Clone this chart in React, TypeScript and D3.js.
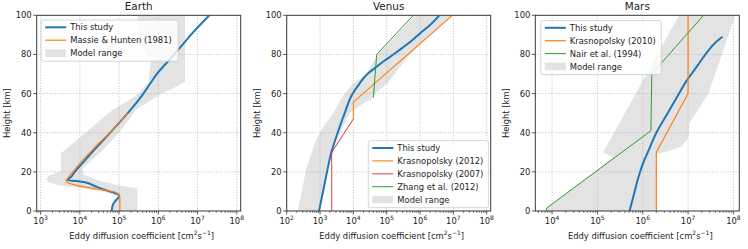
import React from 'react';
import * as d3 from 'd3';

// every profile point is [log10 K (cm2 s-1), height (km)]
type Pt = [number, number];

const heightTicks = [0, 20, 40, 60, 80, 100];
const panelTitles = ['Earth', 'Venus', 'Mars'];

const earthStudy: Pt[] = [[4.81, 0], [4.84, 3], [4.9, 5], [4.97, 6.5], [5.0, 7.5], [4.98, 8.5], [4.85, 9.5], [4.6, 11], [4.35, 13], [4.1, 14.8], [3.9, 15.3], [3.68, 15.8], [3.78, 17.5], [3.87, 20], [4.09, 25], [4.31, 30], [4.54, 35], [4.77, 40], [5.0, 45], [5.22, 50], [5.43, 55], [5.62, 60], [5.79, 65], [5.96, 70], [6.18, 75], [6.4, 80], [6.62, 85], [6.83, 90], [7.3, 100]];
const earthMassie: Pt[] = [[5.02, 0], [5.02, 6.5], [5.0, 8], [4.9, 9.6], [4.7, 10.4], [4.41, 11.3], [3.98, 12.8], [3.75, 14], [3.65, 15.3], [3.7, 17], [3.82, 20], [4.03, 25], [4.24, 29.5], [4.45, 34], [4.67, 38], [4.95, 44], [5.22, 50]];
const earthBandLeft: Pt[] = [[4.8, 0], [4.9, 5], [4.95, 7.5], [4.6, 10], [4.0, 11.8], [3.5, 13], [3.2, 14.5], [3.15, 16], [3.2, 18], [3.52, 20.5], [3.52, 29.5], [4.14, 40], [4.84, 51.7], [5.2, 56], [5.5, 60], [5.75, 66], [5.81, 76], [5.6, 84], [5.47, 90], [5.47, 100]];
const earthBandRight: Pt[] = [[5.47, 0], [5.47, 11.6], [5.0, 13], [4.5, 15.5], [4.1, 18.5], [4.07, 21.8], [4.58, 31], [5.0, 40], [5.43, 51.7], [5.75, 56], [6.1, 60], [6.4, 63], [6.68, 66], [6.68, 100]];

const venusStudy: Pt[] = [[2.97, 0], [3.09, 10], [3.21, 20], [3.34, 30], [3.53, 40], [3.74, 50], [3.98, 60], [4.18, 65], [4.42, 70], [4.68, 73.5], [4.95, 77], [5.2, 80], [5.48, 83.5], [5.75, 87], [5.98, 90.5], [6.3, 95], [6.58, 100]];
const venusK2012: Pt[] = [[4.0, 47], [4.0, 55.6], [6.97, 100]];
const venusK2007: Pt[] = [[3.35, 0], [3.35, 30], [4.0, 47]];
const venusZhang: Pt[] = [[4.6, 58], [4.7, 80], [5.8, 100]];
const venusBandLeft: Pt[] = [[2.33, 0], [2.45, 10], [2.58, 21], [2.85, 35], [3.1, 43], [3.4, 50], [3.65, 58], [3.98, 65], [4.38, 70], [4.73, 80], [5.3, 90], [5.85, 100]];
const venusBandRight: Pt[] = [[2.95, 0], [3.34, 30], [3.6, 40], [3.88, 50], [4.3, 55], [4.55, 57], [4.65, 60], [5.0, 65], [5.7, 80], [6.3, 90], [6.95, 100]];

const marsStudy: Pt[] = [[5.71, 0], [5.8, 8], [5.91, 17.6], [6.0, 24], [6.13, 31], [6.3, 40], [6.55, 50], [6.75, 58], [6.98, 67], [7.2, 74], [7.4, 80.5], [7.6, 86], [7.76, 89]];
const marsK2010: Pt[] = [[6.3, 0], [6.3, 30], [7.0, 60], [7.0, 100]];
const marsNair: Pt[] = [[3.87, 0], [3.88, 1.5], [6.18, 41], [6.2, 70], [7.34, 100]];
const marsBandLeft: Pt[] = [[3.87, 0], [3.88, 1.5], [5.35, 27.5], [5.13, 30], [6.8, 100]];
const marsBandRight: Pt[] = [[6.3, 0], [6.3, 29], [6.55, 30.5], [6.85, 33], [7.0, 37], [7.03, 45], [7.45, 60], [8.04, 100]];

const BLUE = '#1f77b4';
const ORANGE = '#ff7f0e';
const RED = '#d62728';
const GREEN = '#2ca02c';
const BAND = '#e3e3e3';
const FONT = 'DejaVu Sans, sans-serif';

const TOP = 15.3;
const BOTTOM = 211;
const W = 204;

interface Series { name: string; data: Pt[]; color: string; width: number; smooth?: boolean; opacity?: number }
interface PanelCfg {
  title: string; left: number; lo: number; hi: number; exps: number[];
  series: Series[]; bandLeft: Pt[]; bandRight: Pt[];
  legend: { x: number; y: number; w: number };
}

const panels: PanelCfg[] = [
  {
    title: panelTitles[0], left: 36.7, lo: 2.9, hi: 8.1, exps: [3, 4, 5, 6, 7, 8],
    series: [
      { name: 'This study', data: earthStudy, color: BLUE, width: 2, smooth: true },
      { name: 'Massie & Hunten (1981)', data: earthMassie, color: ORANGE, width: 1.2, smooth: true },
    ],
    bandLeft: earthBandLeft, bandRight: earthBandRight,
    legend: { x: 41.2, y: 20, w: 137 },
  },
  {
    title: panelTitles[1], left: 286.7, lo: 2, hi: 8.12, exps: [2, 3, 4, 5, 6, 7, 8],
    series: [
      { name: 'This study', data: venusStudy, color: BLUE, width: 2, smooth: true },
      { name: 'Krasnopolsky (2012)', data: venusK2012, color: ORANGE, width: 1.1 },
      { name: 'Krasnopolsky (2007)', data: venusK2007, color: RED, width: 1.1, opacity: 0.8 },
      { name: 'Zhang et al. (2012)', data: venusZhang, color: GREEN, width: 1 },
    ],
    bandLeft: venusBandLeft, bandRight: venusBandRight,
    legend: { x: 368.3, y: 140.7, w: 120.3 },
  },
  {
    title: panelTitles[2], left: 535.3, lo: 3.63, hi: 8.13, exps: [4, 5, 6, 7, 8],
    series: [
      { name: 'This study', data: marsStudy, color: BLUE, width: 2, smooth: true },
      { name: 'Krasnopolsky (2010)', data: marsK2010, color: ORANGE, width: 1.2 },
      { name: 'Nair et al. (1994)', data: marsNair, color: GREEN, width: 1 },
    ],
    bandLeft: marsBandLeft, bandRight: marsBandRight,
    legend: { x: 540.8, y: 20.5, w: 120.5 },
  },
];

function Panel({ p }: { p: PanelCfg }) {
  const x = d3.scaleLog().domain([10 ** p.lo, 10 ** p.hi]).range([p.left, p.left + W]);
  const y = d3.scaleLinear().domain([0, 100]).range([BOTTOM, TOP]);
  const px = (d: Pt) => x(10 ** d[0]);
  const py = (d: Pt) => y(d[1]);
  const lineLin = d3.line<Pt>().x(px).y(py);
  const lineSmooth = d3.line<Pt>().x(px).y(py).curve(d3.curveMonotoneY);

  const bandPoly = [...p.bandLeft, ...p.bandRight.slice().reverse()];
  const bandPath = d3.line<Pt>().x(px).y(py)(bandPoly) + 'Z';

  // minor ticks 2..9 x 10^k inside the domain
  const minors: number[] = [];
  for (let e = Math.floor(p.lo); e <= Math.ceil(p.hi); e++) {
    for (let m = 2; m <= 9; m++) {
      const v = Math.log10(m) + e;
      if (v >= p.lo && v <= p.hi) minors.push(10 ** v);
    }
  }
  const cx = p.left + W / 2;
  const clipId = `clip-${p.title}`;
  const entries: { name: string; color: string; width: number; patch?: boolean; opacity?: number }[] = [
    ...p.series.map(s => ({ name: s.name, color: s.color, width: s.width, opacity: s.opacity })),
    { name: 'Model range', color: BAND, width: 0, patch: true },
  ];

  return (
    <g>
      <defs>
        <clipPath id={clipId}>
          <rect x={p.left} y={TOP} width={W} height={BOTTOM - TOP} />
        </clipPath>
      </defs>
      <g clipPath={`url(#${clipId})`}>
        <path d={bandPath} fill={BAND} stroke="none" />
        {p.exps.map(e => (
          <line key={'gx' + e} x1={x(10 ** e)} x2={x(10 ** e)} y1={TOP} y2={BOTTOM}
            stroke="#b0b0b0" strokeWidth={0.8} strokeDasharray="1,1.6" />
        ))}
        {heightTicks.map(t => (
          <line key={'gy' + t} x1={p.left} x2={p.left + W} y1={y(t)} y2={y(t)}
            stroke="#b0b0b0" strokeWidth={0.8} strokeDasharray="1,1.6" />
        ))}
        {p.series.map(s => (
          <path key={s.name} d={(s.smooth ? lineSmooth : lineLin)(s.data) || ''} fill="none"
            stroke={s.color} strokeWidth={s.width} strokeOpacity={s.opacity ?? 1} strokeLinejoin="round" />
        ))}
      </g>
      <rect x={p.left} y={TOP} width={W} height={BOTTOM - TOP} fill="none" stroke="#3a3a3a" strokeWidth={1} />

      {/* x ticks */}
      {p.exps.map(e => (
        <g key={'tx' + e}>
          <line x1={x(10 ** e)} x2={x(10 ** e)} y1={BOTTOM} y2={BOTTOM + 3.5} stroke="#333" strokeWidth={0.8} />
          <text x={x(10 ** e)} y={224.2} textAnchor="middle" fontSize={8.4} fontFamily={FONT} fill="#222">
            10<tspan dy={-4.4} fontSize={6}>{e}</tspan>
          </text>
        </g>
      ))}
      {minors.map((v, i) => (
        <line key={'mx' + i} x1={x(v)} x2={x(v)} y1={BOTTOM} y2={BOTTOM + 2} stroke="#333" strokeWidth={0.6} />
      ))}
      {/* y ticks */}
      {heightTicks.map(t => (
        <g key={'ty' + t}>
          <line x1={p.left - 3.5} x2={p.left} y1={y(t)} y2={y(t)} stroke="#333" strokeWidth={0.8} />
          <text x={p.left - 5} y={y(t) + 3} textAnchor="end" fontSize={8.4} fontFamily={FONT} fill="#222">{t}</text>
        </g>
      ))}

      <text x={cx} y={10.4} textAnchor="middle" fontSize={10.4} fontFamily={FONT} fill="#222">{p.title}</text>
      <text x={cx + 3} y={238.5} textAnchor="middle" fontSize={8.4} fontFamily={FONT} fill="#222">
        Eddy diffusion coefficient [cm<tspan dy={-3.5} fontSize={6}>2</tspan><tspan dy={3.5}>s</tspan><tspan dy={-3.5} fontSize={6}>−1</tspan><tspan dy={3.5}>]</tspan>
      </text>
      <text transform={`translate(${p.left - 29.4},${(TOP + BOTTOM) / 2}) rotate(-90)`} textAnchor="middle"
        dominantBaseline="central" fontSize={8.4} fontFamily={FONT} fill="#222">Height [km]</text>

      {/* legend */}
      <g>
        <rect x={p.legend.x} y={p.legend.y} width={p.legend.w} height={entries.length * 12.9 + 2.5}
          rx={2} fill="white" fillOpacity={0.8} stroke="#cccccc" strokeWidth={0.8} />
        {entries.map((en, i) => {
          const ey = p.legend.y + 7.3 + i * 12.9;
          const hx = p.legend.x + 4;
          return (
            <g key={en.name}>
              {en.patch
                ? <rect x={hx} y={ey - 3.8} width={21} height={7.6} fill={BAND} />
                : <line x1={hx} x2={hx + 21} y1={ey} y2={ey} stroke={en.color} strokeWidth={en.width}
                  strokeOpacity={en.opacity ?? 1} />}
              <text x={hx + 25} y={ey + 3} fontSize={8.4} fontFamily={FONT} fill="#222">{en.name}</text>
            </g>
          );
        })}
      </g>
    </g>
  );
}

export default function App() {
  return (
    <svg width={748} height={249} viewBox="0 0 748 249"
      style={{ display: 'block', position: 'absolute', left: 0, top: 0, background: 'white' }}>
      {panels.map(p => <Panel key={p.title} p={p} />)}
    </svg>
  );
}
